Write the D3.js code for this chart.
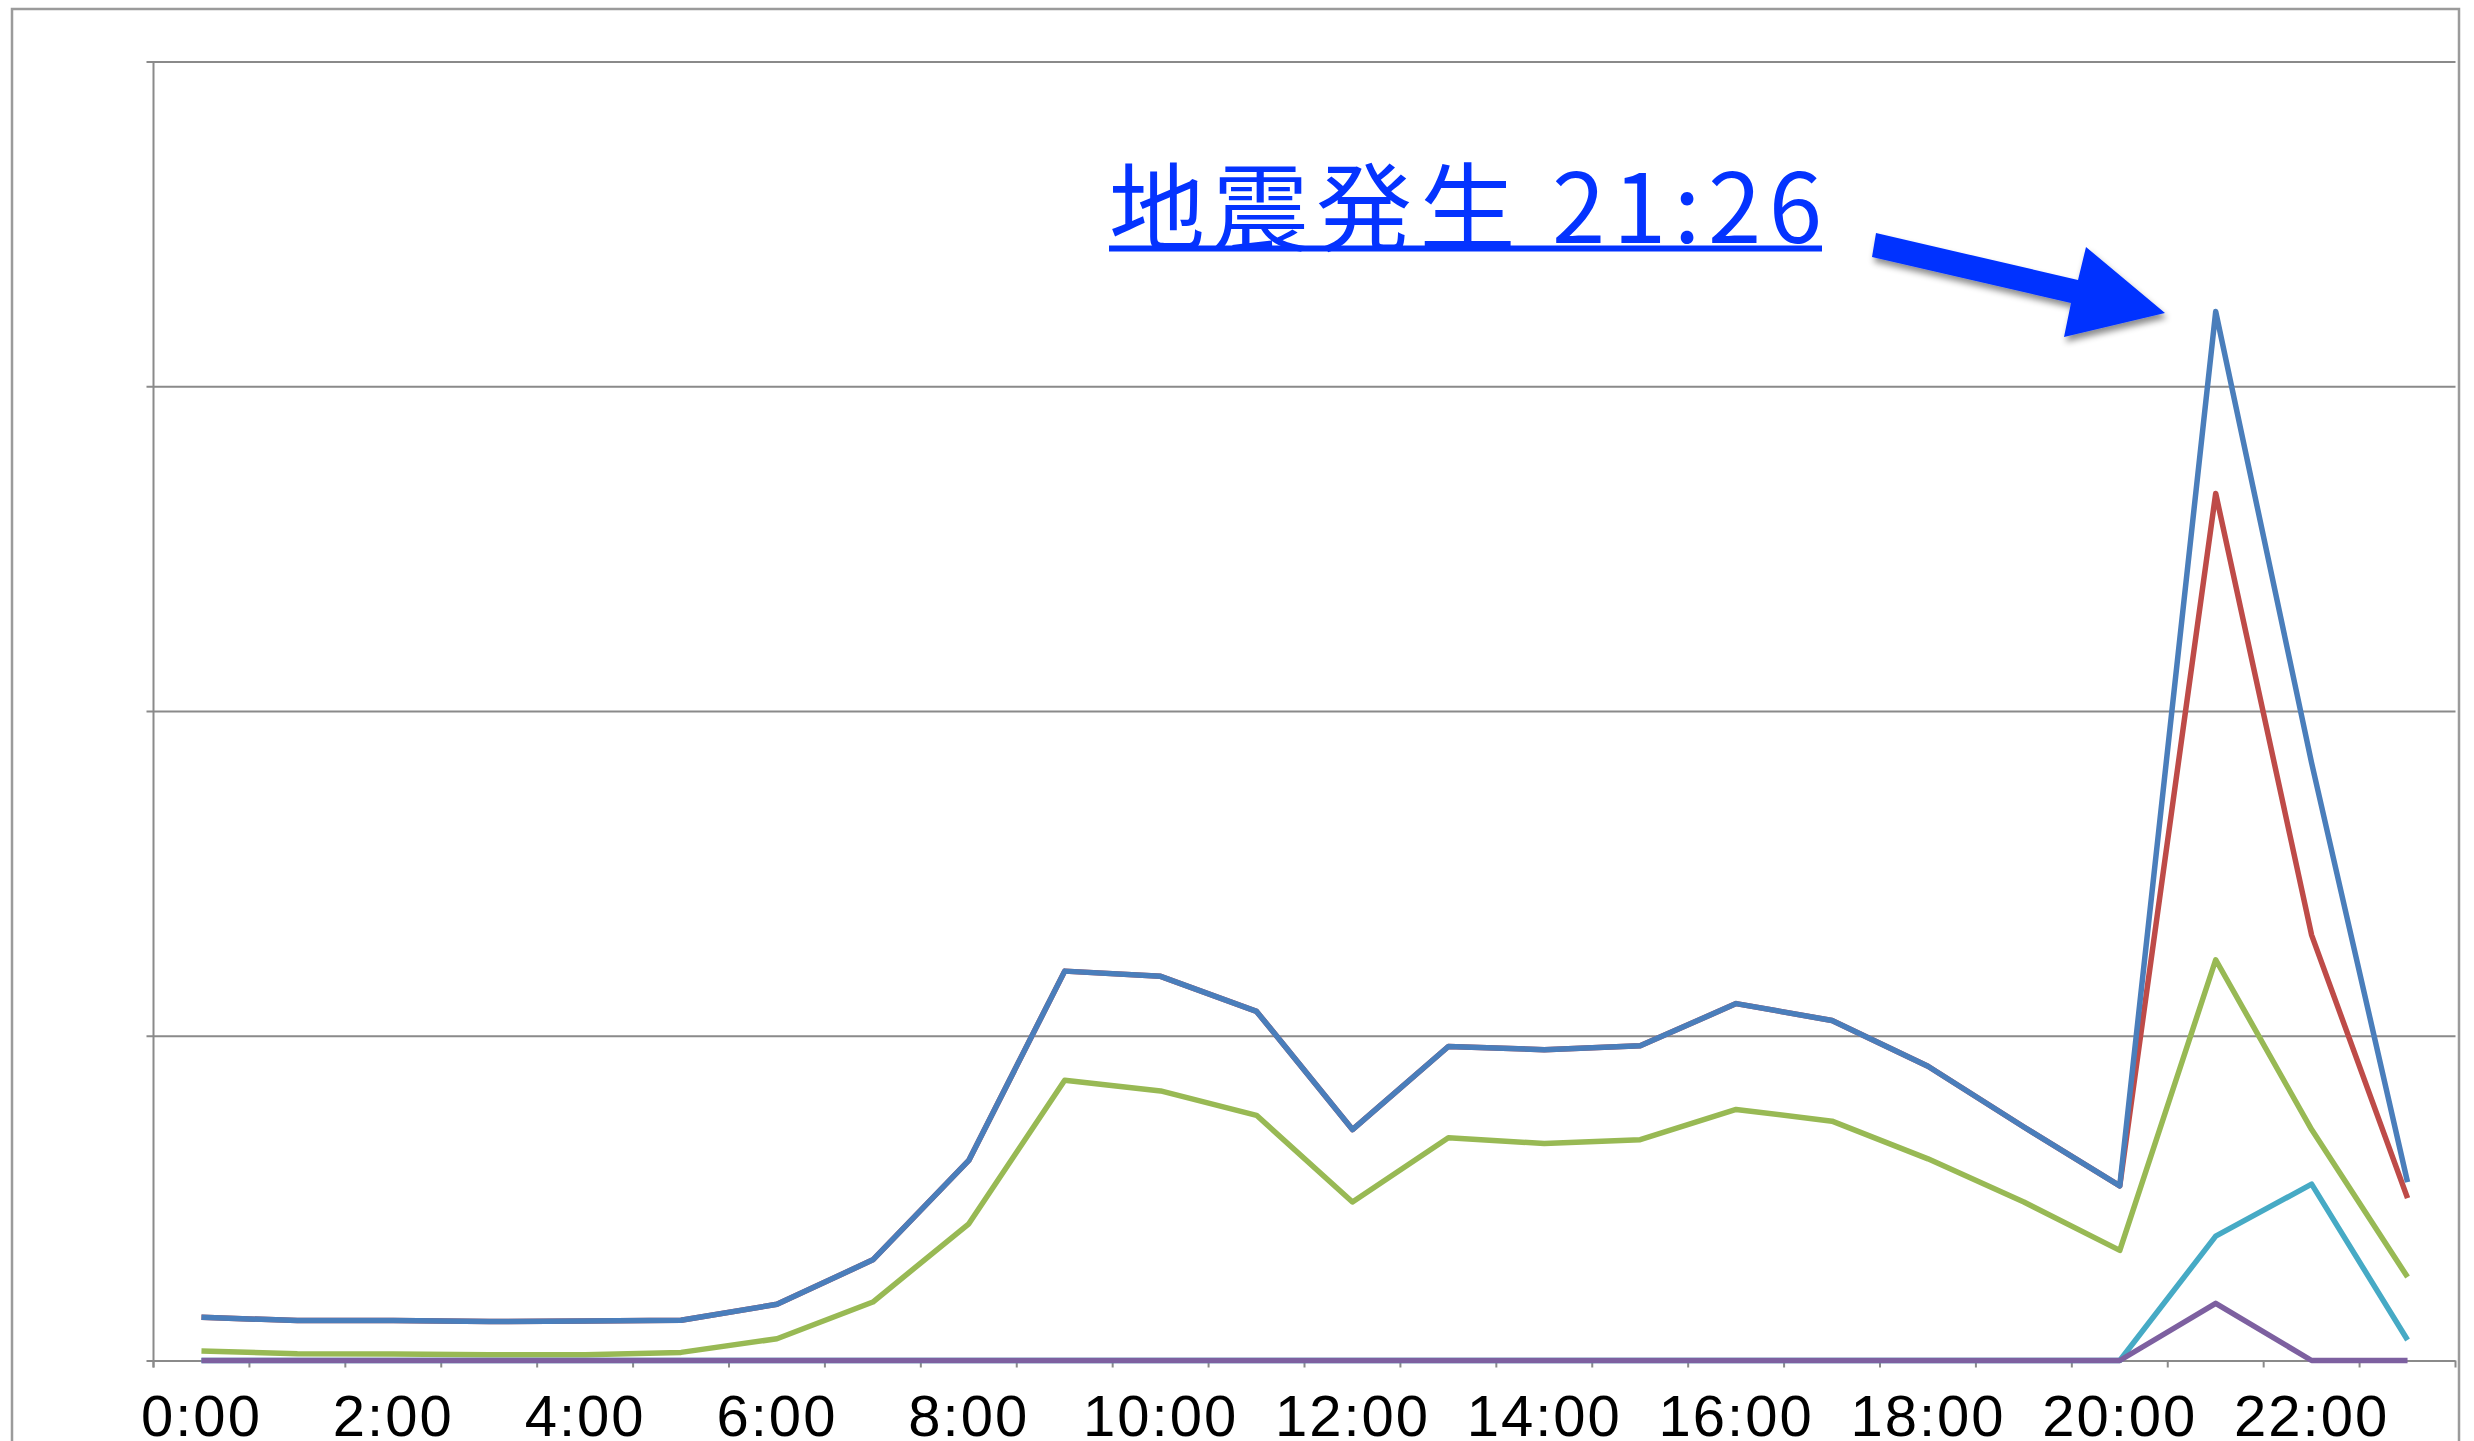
<!DOCTYPE html>
<html>
<head>
<meta charset="utf-8">
<script src="https://cdn.jsdelivr.net/npm/d3@7"></script>
<style>
  html, body { margin: 0; padding: 0; background: #fff; }
  svg { display: block; }
</style>
</head>
<body>
<svg id="chart" width="2474" height="1441"></svg>
<script>
// ---- Data ----
const hours = ["0:00","1:00","2:00","3:00","4:00","5:00","6:00","7:00","8:00","9:00","10:00","11:00",
               "12:00","13:00","14:00","15:00","16:00","17:00","18:00","19:00","20:00","21:00","22:00","23:00"];
const tickLabels = ["0:00","2:00","4:00","6:00","8:00","10:00","12:00","14:00","16:00","18:00","20:00","22:00"];
const yTicks = [0, 100, 200, 300, 400];

const seriesBlue   = [13.3, 12.3, 12.3, 12.0, 12.2, 12.4, 17.3, 31.0, 61.6, 119.9, 118.3, 107.5,
                      71.1, 96.7, 95.7, 96.9, 109.9, 104.7, 90.6, 71.9, 53.8, 323.0, 184.0, 54.9];
const seriesRed    = [13.3, 12.3, 12.3, 12.0, 12.2, 12.4, 17.3, 31.0, 61.6, 119.9, 118.3, 107.5,
                      71.1, 96.7, 95.7, 96.9, 109.9, 104.7, 90.6, 71.9, 53.8, 267.0, 131.0, 50.0];
const seriesGreen  = [2.9, 2.1, 2.0, 1.8, 1.8, 2.5, 6.7, 18.0, 42.1, 86.3, 83.0, 75.5,
                      48.8, 68.6, 66.8, 68.0, 77.3, 73.7, 62.1, 48.8, 33.9, 123.4, 71.1, 25.7];
const seriesCyan   = [0, 0, 0, 0, 0, 0, 0, 0, 0, 0, 0, 0,
                      0, 0, 0, 0, 0, 0, 0, 0, 0, 38.3, 54.3, 6.3];
const seriesPurple = [0, 0, 0, 0, 0, 0, 0, 0, 0, 0, 0, 0,
                      0, 0, 0, 0, 0, 0, 0, 0, 0, 17.6, 0, 0];

const annotationText = "地震発生 21:26";

// ---- Layout ----
const svg = d3.select("#chart");
const plot = { left: 153.5, right: 2455.5, top: 61.5, bottom: 1360.5 };

const x = d3.scaleBand().domain(hours).range([plot.left, plot.right]).padding(0);
const y = d3.scaleLinear().domain([0, 400]).range([plot.bottom, plot.top]);
const cx = h => x(h) + x.bandwidth() / 2;

svg.append("rect").attr("width", 2474).attr("height", 1441).attr("fill", "#fff");

// defs: drop shadow for arrow
const defs = svg.append("defs");
const f = defs.append("filter").attr("id", "shadow").attr("x", "-20%").attr("y", "-40%")
  .attr("width", "150%").attr("height", "200%");
f.append("feDropShadow").attr("dx", 2).attr("dy", 5).attr("stdDeviation", 3)
  .attr("flood-color", "#000").attr("flood-opacity", 0.45);

// outer chart border
svg.append("rect")
  .attr("x", 12).attr("y", 9).attr("width", 2447).attr("height", 1500)
  .attr("fill", "none").attr("stroke", "#9b9b9b").attr("stroke-width", 2.5);

// gridlines + y axis
const yAxis = d3.axisLeft(y).tickValues(yTicks).tickSize(-(plot.right - plot.left)).tickFormat("").tickSizeOuter(0);
const gy = svg.append("g").attr("transform", `translate(${plot.left},0)`).call(yAxis);
gy.select(".domain").remove();
gy.selectAll(".tick line").attr("stroke", "#8a8a8a").attr("stroke-width", 2)
  .attr("x1", -7);
svg.append("line")
  .attr("x1", plot.left).attr("x2", plot.left)
  .attr("y1", plot.top).attr("y2", plot.bottom + 7)
  .attr("stroke", "#8a8a8a").attr("stroke-width", 2);

// x axis: ticks at band boundaries
const boundaries = hours.map(h => x(h)).concat([plot.right]);
svg.append("g").selectAll("line").data(boundaries).join("line")
  .attr("x1", d => d).attr("x2", d => d)
  .attr("y1", plot.bottom).attr("y2", plot.bottom + 7)
  .attr("stroke", "#8a8a8a").attr("stroke-width", 2);

// x labels
svg.append("g").selectAll("text").data(tickLabels).join("text")
  .attr("x", d => cx(d)).attr("y", 1436)
  .attr("text-anchor", "middle")
  .attr("font-family", "'Liberation Sans', Arial, sans-serif")
  .attr("font-size", 58).attr("letter-spacing", 2)
  .attr("fill", "#000")
  .text(d => d);

// series lines
const series = [
  { values: seriesRed,    color: "#be4b48" },
  { values: seriesBlue,   color: "#4a7ebb" },
  { values: seriesGreen,  color: "#98b954" },
  { values: seriesCyan,   color: "#46aac5" },
  { values: seriesPurple, color: "#7d60a0" }
];
const line = d3.line().x((d, i) => cx(hours[i])).y(d => y(d));
svg.append("g").selectAll("path").data(series).join("path")
  .attr("d", s => line(s.values))
  .attr("fill", "none")
  .attr("stroke", s => s.color)
  .attr("stroke-width", 5.5)
  .attr("stroke-linejoin", "round")
  .attr("stroke-linecap", "butt");

// annotation: arrow pointing toward the 21:00 peak
const arrowPts = [
  [1876, 233], [2078, 280], [2086, 247], [2165, 313], [2064, 337], [2071, 303], [1872, 257]
];
svg.append("polygon")
  .attr("points", arrowPts.map(p => p.join(",")).join(" "))
  .attr("fill", "#0433ff")
  .attr("filter", "url(#shadow)");

// annotation text
svg.append("text")
  .attr("x", 1109).attr("y", 243)
  .attr("font-family", "'Noto Sans CJK JP', sans-serif")
  .attr("font-size", 96)
  .attr("fill", "#0433ff")
  .attr("textLength", 713)
  .attr("lengthAdjust", "spacing")
  .text(annotationText);
svg.append("line")
  .attr("x1", 1109).attr("x2", 1822)
  .attr("y1", 248.5).attr("y2", 248.5)
  .attr("stroke", "#0433ff").attr("stroke-width", 6);
</script>
</body>
</html>
